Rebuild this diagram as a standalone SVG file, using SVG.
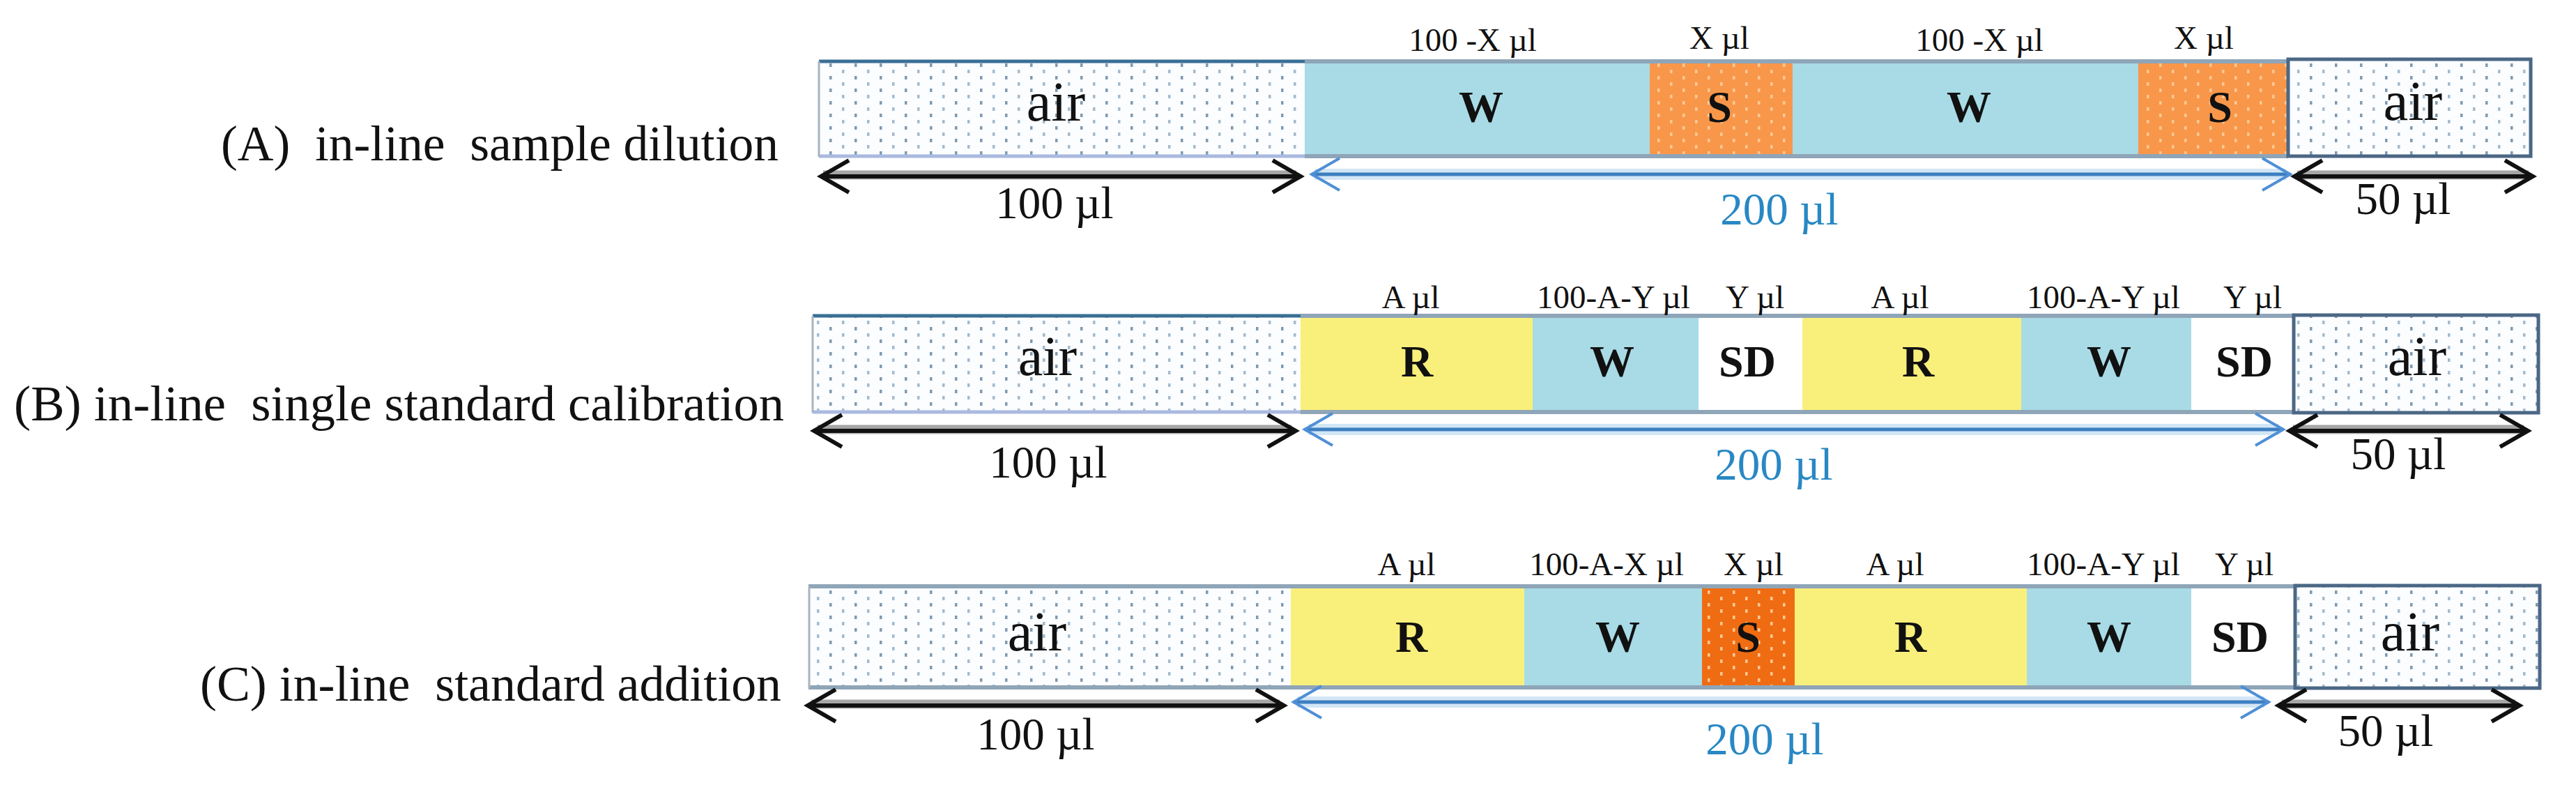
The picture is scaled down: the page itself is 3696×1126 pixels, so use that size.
<svg xmlns="http://www.w3.org/2000/svg" width="3696" height="1126" viewBox="0 0 3696 1126">
<style>
  text { font-family: "Liberation Serif", "Times New Roman", serif; fill: #111; white-space: pre; }
  .title { font-size: 72px; }
  .vol { font-size: 47px; text-anchor: middle; }
  .blk { font-size: 64px; font-weight: bold; text-anchor: middle; }
  .air { font-size: 80px; text-anchor: middle; }
  .dim { font-size: 65px; text-anchor: middle; }
  .dimb { font-size: 65px; text-anchor: middle; fill: #2888c4; }
  .w { fill: #a8dbe6; }
  .r { fill: #f9f07c; }
  .sa { fill: #f8974a; }
  .sc { fill: #f06c12; }
  .sd { fill: #ffffff; }
  .airbg { fill: #fbfdff; }
  .edge { stroke: #8fa5b8; stroke-width: 6; fill: none; }
  .airbox { fill: none; stroke: #4b6785; stroke-width: 5; }
  .airleft { fill: none; stroke: #a8b4c0; stroke-width: 3; }
  .kshadow { stroke: #a6a6a6; stroke-width: 13; fill: none; }
  .kline { stroke: #111; stroke-width: 6; fill: none; marker-start: url(#chevK); marker-end: url(#chevK); }
  .bhalo { stroke: #d2e6f6; stroke-width: 16; fill: none; }
  .bline { stroke: #3d7fc0; stroke-width: 5; fill: none; marker-start: url(#chevB); marker-end: url(#chevB); }
</style>
<defs>
  <pattern id="stipple" width="36" height="18" patternUnits="userSpaceOnUse">
    <rect x="2" y="1" width="3.5" height="5" fill="#7f9ab2"/>
    <rect x="20" y="10" width="3.5" height="5" fill="#a4bacd"/>
  </pattern>
  <pattern id="stippleS" width="36" height="18" patternUnits="userSpaceOnUse">
    <rect x="2" y="1" width="3.5" height="5" fill="#fcc894"/>
    <rect x="20" y="10" width="3.5" height="5" fill="#fcc894"/>
  </pattern>
  <marker id="chevK" viewBox="-46 -28 52 56" refX="0" refY="0" markerWidth="52" markerHeight="56" markerUnits="userSpaceOnUse" orient="auto-start-reverse">
    <path d="M-40,-23 L0,0 L-40,23" fill="none" stroke="#111" stroke-width="6"/>
  </marker>
  <marker id="chevB" viewBox="-46 -28 52 56" refX="0" refY="0" markerWidth="52" markerHeight="56" markerUnits="userSpaceOnUse" orient="auto-start-reverse">
    <path d="M-40,-23 L0,0 L-40,23" fill="none" stroke="#4f8fd6" stroke-width="4"/>
  </marker>
</defs>
<rect width="3696" height="1126" fill="#ffffff"/>

<!-- Row titles -->
<text id="title-A" class="title" x="317" y="230" textLength="800" lengthAdjust="spacingAndGlyphs">(A)  in-line  sample dilution</text>
<text id="title-B" class="title" x="20" y="603" textLength="1105" lengthAdjust="spacingAndGlyphs">(B) in-line  single standard calibration</text>
<text id="title-C" class="title" x="287" y="1005" textLength="834" lengthAdjust="spacingAndGlyphs">(C) in-line  standard addition</text>

<!-- Row A -->
<g id="rowA">
  <g id="A-air1"><rect class="airbg" x="1175" y="87" width="697" height="138"/><rect x="1175" y="87" width="697" height="138" fill="url(#stipple)"/><text class="air" x="1515" y="173">air</text></g>
  <g id="A-W1"><rect class="w" x="1872" y="87" width="495" height="138"/><text class="blk" x="2125" y="175">W</text></g>
  <g id="A-S1"><rect class="sa" x="2367" y="87" width="205" height="138"/><rect x="2367" y="87" width="205" height="138" fill="url(#stippleS)"/><text class="blk" x="2467" y="175">S</text></g>
  <g id="A-W2"><rect class="w" x="2572" y="87" width="496" height="138"/><text class="blk" x="2825" y="175">W</text></g>
  <g id="A-S2"><rect class="sa" x="3068" y="87" width="215" height="138"/><rect x="3068" y="87" width="215" height="138" fill="url(#stippleS)"/><text class="blk" x="3185" y="175">S</text></g>
  <g id="A-air2"><rect class="airbg" x="3283" y="85" width="348" height="139"/><rect x="3283" y="85" width="348" height="139" fill="url(#stipple)"/><text class="air" x="3462" y="172">air</text></g>
  <path class="edge" d="M1872,88 H3283 M1872,224 H3283"/>
  <path d="M1175,88 H1872" stroke="#3a6f95" stroke-width="5"/>
  <path d="M1175,224 H1872" stroke="#a9b9e0" stroke-width="5"/>
  <path class="airleft" d="M1175,88 V225"/>
  <rect class="airbox" x="3283" y="85" width="348" height="139"/>
  <text class="vol" x="2113" y="73">100 -X µl</text>
  <text class="vol" x="2467" y="70">X µl</text>
  <text class="vol" x="2840" y="73">100 -X µl</text>
  <text class="vol" x="3162" y="70">X µl</text>
</g>

<!-- Row B -->
<g id="rowB">
  <g id="B-air1"><rect class="airbg" x="1165" y="452" width="701" height="140"/><rect x="1165" y="452" width="701" height="140" fill="url(#stipple)"/><text class="air" x="1503" y="538">air</text></g>
  <g id="B-R1"><rect class="r" x="1866" y="452" width="333" height="140"/><text class="blk" x="2033" y="540">R</text></g>
  <g id="B-W1"><rect class="w" x="2199" y="452" width="238" height="140"/><text class="blk" x="2313" y="540">W</text></g>
  <g id="B-SD1"><rect class="sd" x="2437" y="452" width="149" height="140"/><text class="blk" x="2507" y="540">SD</text></g>
  <g id="B-R2"><rect class="r" x="2586" y="452" width="314" height="140"/><text class="blk" x="2752" y="540">R</text></g>
  <g id="B-W2"><rect class="w" x="2900" y="452" width="244" height="140"/><text class="blk" x="3026" y="540">W</text></g>
  <g id="B-SD2"><rect class="sd" x="3144" y="452" width="147" height="140"/><text class="blk" x="3220" y="540">SD</text></g>
  <g id="B-air2"><rect class="airbg" x="3291" y="452" width="351" height="140"/><rect x="3291" y="452" width="351" height="140" fill="url(#stipple)"/><text class="air" x="3468" y="538">air</text></g>
  <path class="edge" d="M1866,453 H3291 M1866,591 H3291"/>
  <path d="M1166,453 H1866" stroke="#3a6f95" stroke-width="5"/>
  <path d="M1166,591 H1866" stroke="#a9b9e0" stroke-width="5"/>
  <path class="airleft" d="M1166,453 V592"/>
  <rect class="airbox" x="3291" y="452" width="351" height="140"/>
  <text class="vol" x="2024" y="442">A µl</text>
  <text class="vol" x="2315" y="442">100-A-Y µl</text>
  <text class="vol" x="2518" y="442">Y µl</text>
  <text class="vol" x="2726" y="442">A µl</text>
  <text class="vol" x="3018" y="442">100-A-Y µl</text>
  <text class="vol" x="3232" y="442">Y µl</text>
</g>

<!-- Row C -->
<g id="rowC">
  <g id="C-air1"><rect class="airbg" x="1160" y="840" width="692" height="147"/><rect x="1160" y="840" width="692" height="147" fill="url(#stipple)"/><text class="air" x="1488" y="933">air</text></g>
  <g id="C-R1"><rect class="r" x="1852" y="840" width="335" height="147"/><text class="blk" x="2025" y="935">R</text></g>
  <g id="C-W1"><rect class="w" x="2187" y="840" width="255" height="147"/><text class="blk" x="2321" y="935">W</text></g>
  <g id="C-S1"><rect class="sc" x="2442" y="840" width="133" height="147"/><rect x="2442" y="840" width="133" height="147" fill="url(#stippleS)"/><text class="blk" x="2508" y="935">S</text></g>
  <g id="C-R2"><rect class="r" x="2575" y="840" width="333" height="147"/><text class="blk" x="2741" y="935">R</text></g>
  <g id="C-W2"><rect class="w" x="2908" y="840" width="236" height="147"/><text class="blk" x="3026" y="935">W</text></g>
  <g id="C-SD1"><rect class="sd" x="3144" y="840" width="149" height="147"/><text class="blk" x="3214" y="935">SD</text></g>
  <g id="C-air2"><rect class="airbg" x="3293" y="840" width="351" height="147"/><rect x="3293" y="840" width="351" height="147" fill="url(#stipple)"/><text class="air" x="3458" y="933">air</text></g>
  <path class="edge" d="M1160,841 H3293 M1160,986 H3293"/>
  <path class="airleft" d="M1161,841 V987"/>
  <rect class="airbox" x="3293" y="840" width="351" height="147"/>
  <text class="vol" x="2018" y="825">A µl</text>
  <text class="vol" x="2305" y="825">100-A-X µl</text>
  <text class="vol" x="2516" y="825">X µl</text>
  <text class="vol" x="2719" y="825">A µl</text>
  <text class="vol" x="3018" y="825">100-A-Y µl</text>
  <text class="vol" x="3220" y="825">Y µl</text>
</g>

<!-- Connectors (dimension arrows) -->
<g id="connectors">
  <path class="kshadow" d="M1181,251 H1860"/>
  <path class="kline" d="M1178,253 H1866"/>
  <path class="bhalo" d="M1886,250 H3280"/>
  <path class="bline" d="M1882,250 H3286"/>
  <path class="kshadow" d="M3296,251 H3628"/>
  <path class="kline" d="M3292,253 H3634"/>

  <path class="kshadow" d="M1173,616 H1853"/>
  <path class="kline" d="M1168,618 H1859"/>
  <path class="bhalo" d="M1877,616 H3270"/>
  <path class="bline" d="M1872,616 H3276"/>
  <path class="kshadow" d="M3290,616 H3621"/>
  <path class="kline" d="M3285,618 H3627"/>

  <path class="kshadow" d="M1164,1010 H1836"/>
  <path class="kline" d="M1159,1012 H1842"/>
  <path class="bhalo" d="M1861,1007 H3249"/>
  <path class="bline" d="M1856,1007 H3255"/>
  <path class="kshadow" d="M3274,1010 H3609"/>
  <path class="kline" d="M3269,1012 H3615"/>
</g>

<!-- Dimension labels -->
<g id="dim-labels">
  <text class="dim" x="1513" y="313">100 µl</text>
  <text class="dimb" x="2553" y="322">200 µl</text>
  <text class="dim" x="3448" y="307">50 µl</text>
  <text class="dim" x="1504" y="685">100 µl</text>
  <text class="dimb" x="2545" y="688">200 µl</text>
  <text class="dim" x="3441" y="673">50 µl</text>
  <text class="dim" x="1486" y="1075">100 µl</text>
  <text class="dimb" x="2532" y="1082">200 µl</text>
  <text class="dim" x="3423" y="1070">50 µl</text>
</g>
</svg>
